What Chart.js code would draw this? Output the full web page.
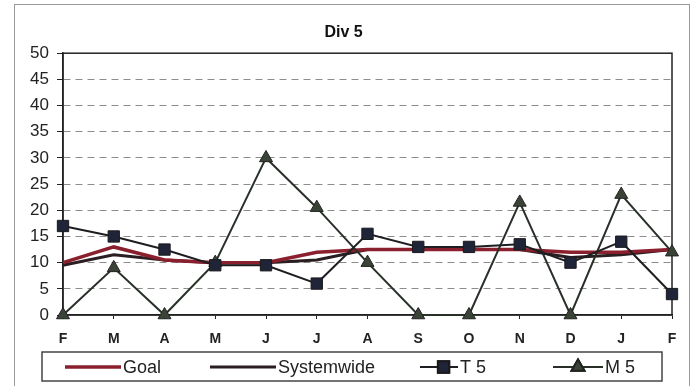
<!DOCTYPE html>
<html>
<head>
<meta charset="utf-8">
<script src="https://cdn.jsdelivr.net/npm/chart.js@4/dist/chart.umd.min.js"></script>
<style>
  html, body { margin: 0; padding: 0; background: #fff; }
  #wrap { width: 695px; height: 386px; position: relative; }
</style>
</head>
<body>
<div id="wrap"><canvas id="chart" width="695" height="386"></canvas></div>
<script>
const months = ["F", "M", "A", "M", "J", "J", "A", "S", "O", "N", "D", "J", "F"];
const goal = [10, 13, 10.5, 10, 10, 12, 12.5, 12.5, 12.5, 12.5, 12, 12, 12.5];
const systemwide = [9.5, 11.5, 10.5, 10, 10, 10.5, 12.5, 12.5, 12.5, 12.5, 11, 11.5, 12.5];
const t5 = [17, 15, 12.5, 9.5, 9.5, 6, 15.5, 13, 13, 13.5, 10, 14, 4];
const m5 = [0, 9, 0, 10, 30, 20.5, 10, 0, 0, 21.5, 0, 23, 12];
const yTicks = [0, 5, 10, 15, 20, 25, 30, 35, 40, 45, 50];

const FONT = "'Liberation Sans', Arial, sans-serif";
const INK = "#222";

// outer frame + plot frame
const framePlugin = {
  id: "frames",
  beforeDraw(chart) {
    const ctx = chart.ctx;
    ctx.save();
    ctx.strokeStyle = "#9a9a9a";
    ctx.lineWidth = 1;
    ctx.strokeRect(14.5, 4.5, chart.width - 20, chart.height - 4);
    ctx.restore();
  },
  beforeDatasetsDraw(chart) {
    const a = chart.chartArea, ctx = chart.ctx;
    ctx.save();
    ctx.strokeStyle = INK;
    ctx.lineWidth = 1.5;
    ctx.strokeRect(a.left, a.top, a.right - a.left, a.bottom - a.top);
    ctx.restore();
  },
};

// legend drawn as line + marker samples inside a boxed strip
const iconWidths = [56, 66, 38, 50];
const itemOffsets = [23, 168, 378, 511];
const markerAt = [0.5, 0.5, 0.62, 0.5];
const legendPlugin = {
  id: "boxLegend",
  afterDraw(chart) {
    const ctx = chart.ctx;
    const a = chart.chartArea;
    const box = { left: 42, top: 352, right: a.right - 10, bottom: 381 };
    ctx.save();
    ctx.strokeStyle = "#444";
    ctx.lineWidth = 1.5;
    ctx.strokeRect(box.left, box.top, box.right - box.left, box.bottom - box.top);

    ctx.font = "18px " + FONT;
    ctx.textBaseline = "middle";
    const cy = (box.top + box.bottom) / 2 + 0.5;
    chart.data.datasets.forEach((d, i) => {
      const x = box.left + itemOffsets[i];
      const w = iconWidths[i];
      ctx.strokeStyle = d.borderColor;
      ctx.lineWidth = d.borderWidth;
      ctx.beginPath();
      ctx.moveTo(x, cy);
      ctx.lineTo(x + w, cy);
      ctx.stroke();
      if (d.pointRadius > 0) {
        Chart.helpers.drawPoint(ctx, {
          pointStyle: d.pointStyle,
          radius: d.pointRadius,
          borderWidth: 1,
          rotation: 0,
        }, x + w * markerAt[i], cy);
        ctx.fillStyle = d.pointBackgroundColor;
        ctx.strokeStyle = d.pointBorderColor;
        ctx.fill();
        ctx.stroke();
      }
      ctx.fillStyle = INK;
      ctx.fillText(d.label, x + w + 2, cy + 1);
    });
    ctx.restore();
  },
};

new Chart(document.getElementById("chart"), {
  type: "line",
  data: {
    labels: months,
    datasets: [
      {
        label: "Goal",
        data: goal,
        borderColor: "#8a1f2e",
        backgroundColor: "#8a1f2e",
        borderWidth: 3.5,
        pointRadius: 0,
        order: 3,
      },
      {
        label: "Systemwide",
        data: systemwide,
        borderColor: "#2a1e20",
        backgroundColor: "#2a1e20",
        borderWidth: 3,
        pointRadius: 0,
        order: 4,
      },
      {
        label: "T 5",
        data: t5,
        borderColor: "#1e1e22",
        borderWidth: 2,
        pointStyle: "rect",
        pointRadius: 8,
        pointBackgroundColor: "#1f2438",
        pointBorderColor: "#1a1a1a",
        pointBorderWidth: 1,
        order: 1,
      },
      {
        label: "M 5",
        data: m5,
        borderColor: "#283028",
        borderWidth: 2,
        pointStyle: "triangle",
        pointRadius: 7.5,
        pointBackgroundColor: "#3a4436",
        pointBorderColor: "#222",
        pointBorderWidth: 1,
        order: 2,
      },
    ],
  },
  options: {
    responsive: false,
    animation: false,
    clip: false,
    layout: { padding: { left: 15, right: 23, top: 5, bottom: 41 } },
    elements: { line: { tension: 0 } },
    plugins: {
      legend: { display: false },
      tooltip: { enabled: false },
      title: {
        display: true,
        text: "Div 5",
        color: "#111",
        font: { family: FONT, size: 16, weight: "bold" },
        padding: { top: 18, bottom: 11 },
      },
    },
    scales: {
      x: {
        offset: false,
        grid: { color: "rgba(0,0,0,0)", tickColor: INK, tickLength: 4, drawTicks: true },
        border: { display: true, color: INK, width: 1.5 },
        ticks: {
          color: INK,
          padding: 12,
          autoSkip: false,
          maxRotation: 0,
          font: { family: FONT, size: 14, weight: "bold" },
        },
        afterFit: (s) => { s.height = 30; },
      },
      y: {
        min: 0,
        max: 50,
        afterBuildTicks: (s) => { s.ticks = yTicks.map((v) => ({ value: v })); },
        grid: {
          color: (c) => (c.tick && (c.tick.value === 0 || c.tick.value === 50) ? "rgba(0,0,0,0)" : "#8c8c8c"),
          lineWidth: 1,
          tickColor: INK,
          tickLength: 6,
        },
        border: { display: true, color: INK, width: 1.5, dash: [7, 5] },
        ticks: {
          color: INK,
          padding: 8,
          font: { family: FONT, size: 17 },
        },
        afterFit: (s) => { s.width = 48; },
      },
    },
  },
  plugins: [framePlugin, legendPlugin],
});
</script>
</body>
</html>
